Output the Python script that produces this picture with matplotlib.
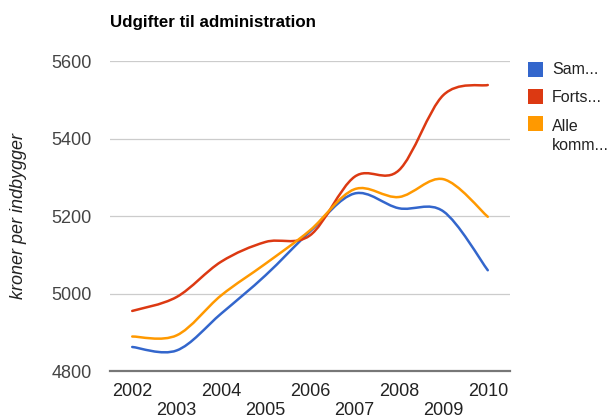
import numpy as np
import matplotlib
matplotlib.use("Agg")
import matplotlib.pyplot as plt
from matplotlib.path import Path
from matplotlib.patches import PathPatch, Rectangle

plt.rcParams['font.family'] = ['Liberation Sans', 'DejaVu Sans']

# data
years = [2002, 2003, 2004, 2005, 2006, 2007, 2008, 2009, 2010]
sam = [4862, 4853, 4948, 5047, 5160, 5258, 5220, 5212, 5060]
forts = [4955, 4991, 5082, 5133, 5150, 5301, 5318, 5512, 5538]
alle = [4889, 4892, 4995, 5077, 5163, 5269, 5249, 5295, 5198]
series_labels = ['Sam...', 'Forts...', 'Alle\nkomm...']
colors = ['#3366CC', '#DC3912', '#FF9900']
y_ticks = [4800, 5000, 5200, 5400, 5600]

W, H = 613, 419
fig = plt.figure(figsize=(W / 100, H / 100), dpi=100, facecolor='white')
ax = fig.add_axes([110 / W, 1 - 371 / H, 400 / W, 310 / H])


def smooth_path(x, y):
    # catmull-rom as cubic bezier segments, like google's curveType 'function'
    x = np.asarray(x, float)
    y = np.asarray(y, float)
    pts = np.column_stack([x, y])
    n = len(pts)
    verts = [pts[0]]
    codes = [Path.MOVETO]
    for i in range(n - 1):
        p0 = pts[max(i - 1, 0)]
        p1 = pts[i]
        p2 = pts[i + 1]
        p3 = pts[min(i + 2, n - 1)]
        c1 = p1 + (p2 - p0) / 6
        c2 = p2 - (p3 - p1) / 6
        verts += [c1, c2, p2]
        codes += [Path.CURVE4] * 3
    return Path(verts, codes)


for vals, c in zip([sam, forts, alle], colors):
    ax.add_patch(PathPatch(smooth_path(years, vals), fill=False,
                           edgecolor=c, lw=1.8, capstyle='round',
                           joinstyle='round', zorder=3))

ax.set_xlim(2001.5, 2010.5)
ax.set_ylim(4800, 5600)
ax.set_yticks(y_ticks)
ax.set_yticklabels([str(v) for v in y_ticks])
ax.set_xticks(years)
ax.set_xticklabels([str(yr) if k % 2 == 0 else '\n' + str(yr)
                    for k, yr in enumerate(years)], linespacing=1.15)
ax.tick_params(axis='y', length=0, pad=13, labelsize=13, labelcolor='#444444')
ax.tick_params(axis='x', length=0, pad=9, labelsize=13, labelcolor='#222222')
ax.grid(axis='y', color='#cccccc', lw=0.9)
ax.set_axisbelow(True)
for s in ['top', 'right', 'left']:
    ax.spines[s].set_visible(False)
ax.spines['bottom'].set_color('#777777')
ax.spines['bottom'].set_linewidth(1.6)

fig.text(110 / W, 1 - 23 / H, 'Udgifter til administration', ha='left',
         va='center', fontsize=12.2, fontweight='bold', color='black')
fig.text(19 / W, 1 - 216 / H, 'kroner per indbygger', rotation=90,
         ha='center', va='center', fontsize=13, style='italic', color='#222222')

# legend
for k, (lab, c) in enumerate(zip(series_labels, colors)):
    cy = 70 + k * 27
    fig.patches.append(Rectangle((528 / W, 1 - (cy + 7.5) / H), 15 / W, 15 / H,
                                 transform=fig.transFigure, facecolor=c,
                                 edgecolor='none'))
    nl = lab.count('\n')
    fig.text(552 / W, 1 - (cy + nl * 12) / H, lab, ha='left', va='center',
             fontsize=11.5, color='#222222', linespacing=1.3)

fig.savefig('out.png', dpi=100, facecolor='white')
